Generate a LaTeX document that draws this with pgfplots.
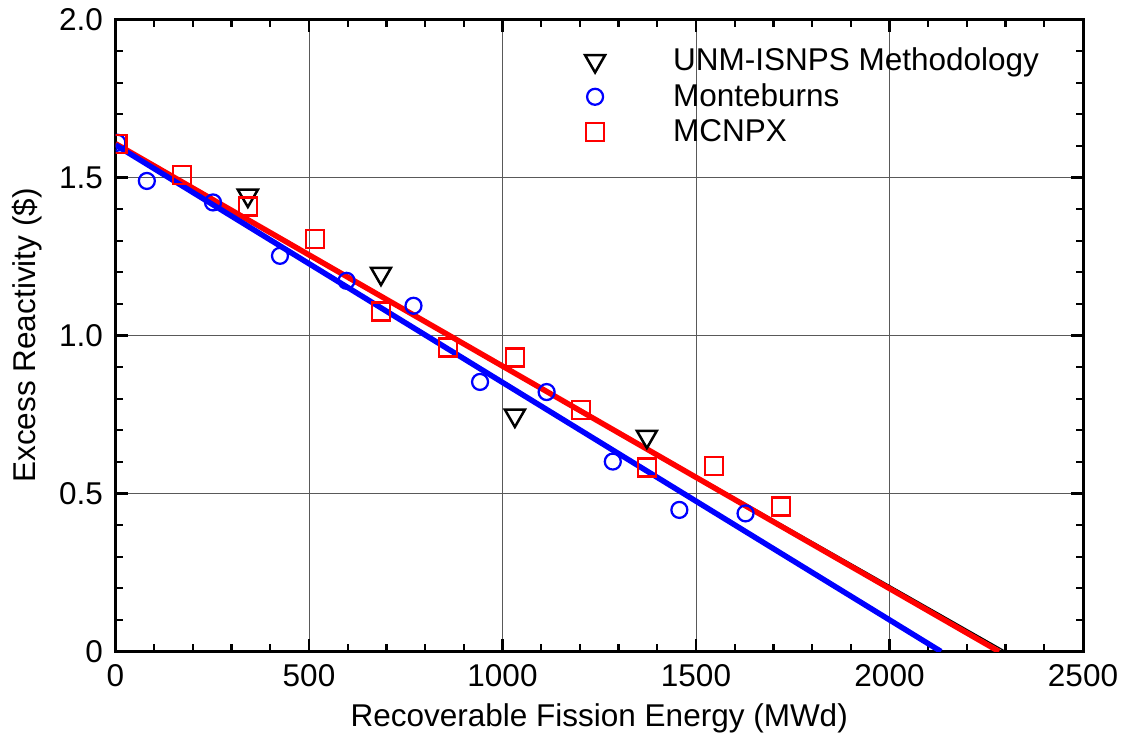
\documentclass[border=0pt]{standalone}
\usepackage{pgfplots}
\pgfplotsset{compat=1.18}
\usepackage{fontspec}
\setmainfont{Liberation Sans}
\begin{document}
\begin{tikzpicture}
\pgfplotsset{legmark/.style={legend image code/.code={\path (0cm,0cm) (1.25cm,0cm); \draw[##1] plot coordinates {(0.23cm,0cm)};}}}
\begin{axis}[
  at={(0,0)}, anchor=south west,
  width=387pt, height=252.8pt, scale only axis,
  xmin=0, xmax=2500, ymin=0, ymax=2,
  xtick={0,500,1000,1500,2000,2500},
  ytick={0,0.5,1,1.5,2}, yticklabels={0,0.5,1.0,1.5,2.0},
  minor x tick num=4, minor y tick num=4,
  tick align=inside,
  major tick length=5pt, minor tick length=3pt,
  grid=major, major grid style={black!65, line width=0.4pt},
  axis line style={line width=1.2pt},
  every tick/.style={black, line width=0.9pt},
  /pgf/number format/assume math mode=true,
  /pgf/number format/1000 sep={},
  tick label style={font=\fontsize{12.6}{14}\selectfont},
  xticklabel style={yshift=-1.5pt},
  yticklabel style={xshift=-1.5pt},
  label style={font=\fontsize{12.6}{14}\selectfont},
  xlabel={Recoverable Fission Energy (MWd)},
  ylabel={Excess Reactivity (\$)},
  clip marker paths=true,
  legend style={draw=none, fill=none, font=\fontsize{12.6}{14}\selectfont,
    at={(rel axis cs:0.47,0.972)}, anchor=north west, cells={anchor=west},
    row sep=-0.3pt},
]
\addplot[black, line width=0.5pt, forget plot] coordinates {(0,1.60) (2300,0)};
\addplot[red, line width=2.2pt, forget plot] coordinates {(0,1.607) (2283,0)};
\addplot[blue, line width=2.2pt, forget plot] coordinates {(0,1.603) (2133,0)};
\addplot[only marks, mark=triangle, mark options={rotate=180, line width=1pt}, mark size=4.6pt, black, legmark]
  coordinates {(342,1.443) (686,1.196) (1032,0.747) (1373,0.680)};
\addlegendentry{UNM-ISNPS Methodology}
\addplot[only marks, mark=o, mark options={line width=0.9pt}, mark size=3.2pt, blue, legmark]
  coordinates {(5,1.61) (81,1.489) (252,1.421) (425,1.252) (597,1.173) (770,1.094) (942,0.853) (1114,0.821) (1285,0.601) (1457,0.448) (1628,0.437)};
\addlegendentry{Monteburns}
\addplot[only marks, mark=square, mark options={line width=0.9pt}, mark size=3.6pt, red, legmark]
  coordinates {(5,1.605) (171,1.507) (343,1.408) (515,1.305) (686,1.076) (860,0.962) (1032,0.930) (1203,0.765) (1374,0.582) (1547,0.588) (1719,0.459)};
\addlegendentry{MCNPX}
\end{axis}
\path[use as bounding box] (-46.2pt,-36.4pt) rectangle (405pt,259.6pt);
\end{tikzpicture}
\end{document}
